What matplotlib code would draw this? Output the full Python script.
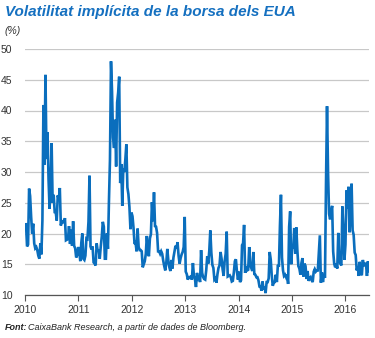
import numpy as np
import pandas as pd
import matplotlib
matplotlib.use('Agg')
import matplotlib.pyplot as plt
import matplotlib.dates as mdates

# Weekly readings of implied volatility (%)
vix_2010 = [21.5, 17.9, 18.2, 27.3, 26.1, 22.7, 20.0, 21.6, 18.4, 17.6,
            17.8, 17.3, 16.4, 15.9, 18.4, 16.6, 22.1, 40.9, 31.2, 45.8,
            32.1, 36.5, 28.8, 24.0, 28.5, 34.7, 25.0, 26.3, 23.5, 23.5,
            22.1, 26.2, 25.5, 27.4, 21.3, 22.0, 22.0, 21.7, 22.5, 18.9,
            19.0, 19.1, 21.2, 18.3, 20.6, 18.0, 22.0, 18.0, 17.6, 16.1,
            16.5, 17.8]
vix_2011 = [17.1, 15.5, 18.5, 20.0, 15.9, 15.7, 16.4, 19.2, 19.1, 21.9,
            29.4, 17.9, 17.4, 17.9, 15.3, 15.1, 14.8, 18.4, 17.1, 17.4,
            15.9, 17.9, 19.5, 21.9, 21.1, 15.9, 15.9, 20.0, 17.5, 25.3,
            32.0, 48.0, 43.1, 35.6, 33.9, 38.5, 30.9, 41.3, 42.9, 45.5,
            28.2, 31.3, 24.5, 30.5, 30.0, 32.0, 34.5, 27.5, 26.4, 24.3,
            20.7, 23.4]
vix_2012 = [22.8, 20.9, 18.3, 18.5, 17.1, 20.8, 17.8, 17.3, 17.3, 17.1,
            14.5, 15.0, 15.5, 16.7, 19.6, 17.4, 16.3, 19.2, 19.9, 25.1,
            22.0, 26.7, 21.2, 21.1, 20.1, 17.1, 17.1, 16.7, 17.1, 16.7,
            15.6, 14.7, 14.0, 15.2, 17.5, 15.6, 14.5, 13.9, 15.7, 14.3,
            16.1, 17.1, 18.0, 17.6, 18.6, 16.4, 15.1, 16.0, 16.6, 17.0,
            17.8, 22.7]
vix_2013 = [13.8, 13.4, 12.5, 12.9, 12.9, 13.0, 12.5, 15.2, 13.1, 12.6,
            11.3, 13.6, 12.7, 12.9, 12.1, 17.3, 13.6, 12.9, 12.6, 12.5,
            14.0, 16.3, 15.1, 17.2, 20.5, 16.9, 14.9, 14.4, 12.5, 12.7,
            12.0, 13.4, 14.4, 14.8, 17.0, 15.9, 14.2, 13.1, 15.5, 16.7,
            20.3, 13.0, 13.1, 13.2, 12.9, 12.2, 12.3, 13.7, 15.5, 15.8,
            13.8, 12.5]
vix_2014 = [13.8, 12.1, 12.4, 18.1, 18.4, 21.4, 13.6, 14.7, 14.0, 14.1,
            17.8, 15.0, 14.4, 13.9, 17.0, 13.4, 13.3, 12.9, 12.9, 12.4,
            11.4, 11.4, 10.7, 12.2, 10.9, 11.3, 10.3, 12.1, 12.1, 12.7,
            17.0, 15.8, 13.2, 11.5, 12.0, 12.1, 13.3, 12.1, 14.9, 14.6,
            21.2, 26.3, 16.1, 14.0, 13.1, 13.3, 12.9, 13.3, 11.8, 21.1,
            23.6, 15.0]
vix_2015 = [17.8, 17.6, 20.9, 16.7, 21.0, 17.3, 14.7, 14.3, 13.3, 15.2,
            16.0, 13.0, 15.1, 14.7, 12.6, 13.9, 12.3, 12.7, 12.9, 12.4,
            12.1, 13.8, 14.2, 13.8, 14.0, 14.0, 16.8, 19.7, 12.0, 13.7,
            12.1, 13.4, 12.8, 28.0, 40.7, 30.0, 23.2, 22.3, 23.6, 24.5,
            17.1, 15.1, 14.5, 15.1, 14.3, 20.1, 15.5, 15.1, 14.8, 24.4,
            20.7, 15.7]
vix_2016 = [18.2, 27.0, 24.0, 27.6, 20.2, 23.4, 28.1, 20.5, 19.8, 16.9,
            16.5, 14.0, 14.7, 13.1, 15.4, 13.6, 13.2, 15.7, 14.7, 15.0,
            15.2, 13.1, 15.5, 13.9]

first_fridays = ['2010-01-08', '2011-01-07', '2012-01-06', '2013-01-04',
                 '2014-01-03', '2015-01-02', '2016-01-01']
years = [vix_2010, vix_2011, vix_2012, vix_2013, vix_2014, vix_2015, vix_2016]

dates = []
for start, vals in zip(first_fridays, years):
    dates.extend(pd.date_range(start, periods=len(vals), freq='W-FRI'))
vix = np.concatenate(years)

fonts = ['Liberation Sans Narrow', 'Liberation Sans', 'DejaVu Sans']
plt.rcParams['font.family'] = fonts

fig = plt.figure(figsize=(3.75, 3.38), dpi=100)
ax = fig.add_axes([25/375, 1-295/338, 344/375, 246/338])

ax.plot(dates, vix, color='#0a6ebd', lw=1.9, solid_joinstyle='miter')

ax.set_ylim(10, 50)
ax.set_yticks(range(10, 51, 5))
ax.set_xlim(pd.Timestamp('2010-01-01'), pd.Timestamp('2016-06-10'))
ax.xaxis.set_major_locator(mdates.YearLocator())
ax.xaxis.set_major_formatter(mdates.DateFormatter('%Y'))

ax.grid(axis='y', color='#c8c8c8', lw=0.9)
ax.set_axisbelow(True)
for s in ['top', 'right', 'left']:
    ax.spines[s].set_visible(False)
ax.spines['bottom'].set_color('#555555')
ax.spines['bottom'].set_linewidth(0.9)

ax.tick_params(axis='y', length=0, pad=9, labelsize=7.5, labelcolor='#333333')
ax.tick_params(axis='x', length=4, width=0.8, color='#555555', labelsize=7.5,
               labelcolor='#333333', pad=3)

fig.text(5/375, 1-12/338, 'Volatilitat implícita de la borsa dels EUA',
         fontsize=11, fontweight='bold', style='italic', color='#1570c0', va='center')
fig.text(5/375, 1-31/338, '(%)', fontsize=7.5, style='italic', color='#333333', va='center')

t = fig.text(5/375, 1-328/338, 'Font:', fontsize=6.5, fontweight='bold', style='italic',
             color='#222222', va='center')
r = fig.canvas.get_renderer()
bb = t.get_window_extent(renderer=r)
fig.text(bb.x1/fig.bbox.width + 1/375, 1-328/338,
         'CaixaBank Research, a partir de dades de Bloomberg.',
         fontsize=6.5, style='italic', color='#222222', va='center')

plt.savefig('out.png', dpi=100)
